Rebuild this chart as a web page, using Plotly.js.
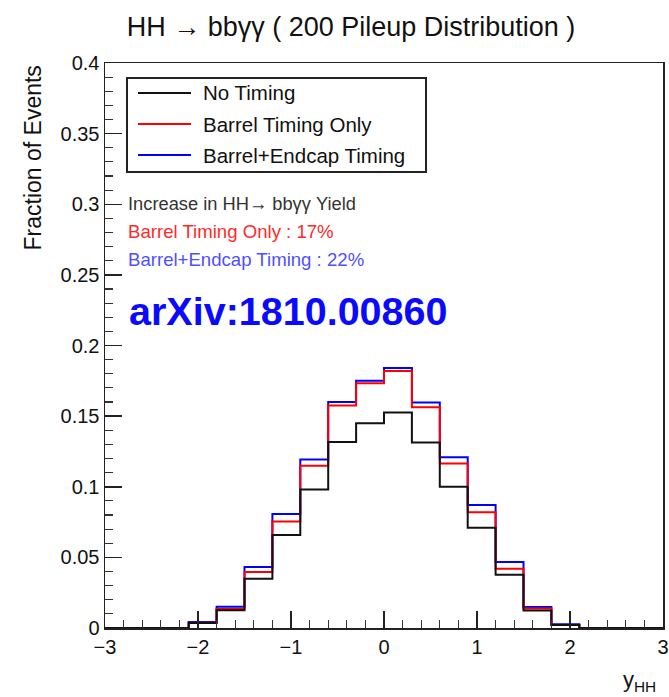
<!DOCTYPE html>
<html>
<head>
<meta charset="utf-8">
<script src="https://cdn.plot.ly/plotly-3.0.1.min.js"></script>
<style>html,body{margin:0;padding:0;background:#fff;}#chart{width:669px;height:697px;}</style>
</head>
<body>
<div id="chart"></div>
<script>
// ---- data ----
const binEdges = [-3,-2.7,-2.4,-2.1,-1.8,-1.5,-1.2,-0.9,-0.6,-0.3,0,0.3,0.6,0.9,1.2,1.5,1.8,2.1,2.4,2.7,3];
const noTiming     = [0,0,0,0.0036,0.0126,0.0348,0.0659,0.0980,0.1317,0.1449,0.1525,0.1313,0.1000,0.0709,0.0377,0.0124,0.0021,0,0,0];
const barrelOnly   = [0,0,0,0.0038,0.0134,0.0396,0.0754,0.1148,0.1575,0.1733,0.1819,0.1563,0.1165,0.0819,0.0420,0.0138,0.0021,0,0,0];
const barrelEndcap = [0,0,0,0.0043,0.0150,0.0432,0.0807,0.1193,0.1600,0.1750,0.1840,0.1597,0.1208,0.0871,0.0468,0.0148,0.0026,0,0,0];
const seriesNames  = ["No Timing","Barrel Timing Only","Barrel+Endcap Timing"];
const seriesColors = ["#111111","#ff0000","#0000ff"];
const yieldHeader  = "Increase in HH\u2192 bb\u03b3\u03b3 Yield";
const yieldLines   = ["Barrel Timing Only : 17%","Barrel+Endcap Timing : 22%"];
const yieldColors  = ["#ff2a2a","#4f4fff"];
const titleText    = "HH \u2192 bb\u03b3\u03b3 ( 200 Pileup Distribution )";
const watermark    = "arXiv:1810.00860";

// ---- layout helpers (pixel -> paper) ----
const L=105,R=663,T=63,B=628;
const px = x => (x-L)/(R-L);
const py = y => (B-y)/(B-T);

function stepTrace(vals, name, color){
  return {
    type:'scatter', mode:'lines', name:name,
    x: binEdges.slice(),
    y: vals.concat([vals[vals.length-1]]),
    line:{shape:'hv', color:color, width:2},
    showlegend:false, hoverinfo:'skip'
  };
}
const series = [noTiming, barrelOnly, barrelEndcap];
const traces = [2,1,0].map(i => stepTrace(series[i], seriesNames[i], seriesColors[i]));

const font = "Liberation Sans, Arial, Helvetica, sans-serif";
const shapes = [
  {type:'rect', xref:'paper', yref:'paper', x0:px(127), x1:px(426), y0:py(78), y1:py(172),
   line:{color:'#222', width:2}, fillcolor:'rgba(255,255,255,0)'}
];
const annotations = [];
const rowY = [93,124,155];
seriesNames.forEach((n,i)=>{
  shapes.push({type:'line', xref:'paper', yref:'paper', x0:px(138), x1:px(191), y0:py(rowY[i]), y1:py(rowY[i]),
    line:{color:seriesColors[i], width:2}});
  annotations.push({xref:'paper', yref:'paper', x:px(201), y:py(rowY[i]), xanchor:'left', yanchor:'middle',
    text:n, showarrow:false, font:{family:font, size:20.5, color:'#111'}});
});
annotations.push({xref:'paper', yref:'paper', x:px(126), y:py(203), xanchor:'left', yanchor:'middle',
  text:yieldHeader, showarrow:false, font:{family:font, size:18.3, color:'#333'}});
yieldLines.forEach((t,i)=>{
  annotations.push({xref:'paper', yref:'paper', x:px(126), y:py([231,259][i]), xanchor:'left', yanchor:'middle',
    text:t, showarrow:false, font:{family:font, size:18.6, color:yieldColors[i]}});
});
annotations.push({xref:'paper', yref:'paper', x:px(127), y:py(311), xanchor:'left', yanchor:'middle',
  text:'<b>'+watermark+'</b>', showarrow:false, font:{family:font, size:39.5, color:'#0a0aff'}});
// axis titles
annotations.push({xref:'paper', yref:'paper', x:px(33), y:py(64), xanchor:'center', yanchor:'top',
  text:'Fraction of Events', textangle:-90, showarrow:false, font:{family:font, size:23, color:'#111'}});
annotations.push({xref:'paper', yref:'paper', x:px(658), y:py(697), xanchor:'right', yanchor:'bottom',
  text:'y<sub>HH</sub>', showarrow:false, font:{family:font, size:22, color:'#111'}});

const layout = {
  width:669, height:697,
  margin:{l:L, r:669-R, t:T, b:697-B, pad:0},
  paper_bgcolor:'#fff', plot_bgcolor:'#fff',
  showlegend:false,
  title:{text:titleText, x:351/669, xanchor:'center', y:1-27/697, yanchor:'middle', yref:'container',
         font:{family:font, size:27, color:'#111'}},
  xaxis:{range:[-3,3], dtick:1, tick0:-3, ticks:'inside', ticklen:17, tickwidth:1.5, tickcolor:'#222',
         showline:true, mirror:true, linecolor:'#222', linewidth:1.5, showgrid:false, zeroline:false,
         tickfont:{family:font, size:20, color:'#111'},
         minor:{ticks:'inside', dtick:0.2, ticklen:8, tickwidth:1.2, tickcolor:'#333', showgrid:false}},
  yaxis:{range:[0,0.4], dtick:0.05, tick0:0, ticks:'inside', ticklen:17, tickwidth:1.5, tickcolor:'#222',
         showline:true, mirror:true, linecolor:'#222', linewidth:1.5, showgrid:false, zeroline:false,
         tickfont:{family:font, size:20, color:'#111'},
         minor:{ticks:'inside', dtick:0.01, ticklen:8, tickwidth:1.2, tickcolor:'#333', showgrid:false}},
  shapes:shapes, annotations:annotations
};
Plotly.newPlot('chart', traces, layout, {staticPlot:true, displayModeBar:false});
</script>
</body>
</html>
